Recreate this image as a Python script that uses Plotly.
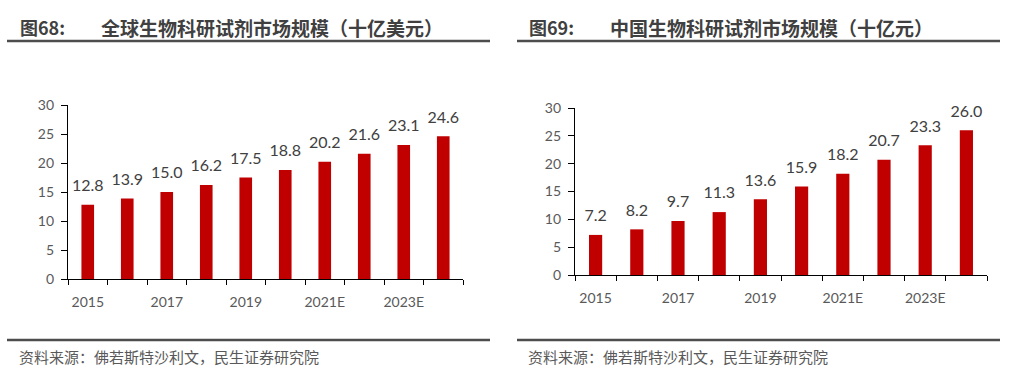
import plotly.graph_objects as go

years = ["2015", "2016", "2017", "2018", "2019", "2020", "2021E", "2022E", "2023E", "2024E"]
global_vals = [12.8, 13.9, 15.0, 16.2, 17.5, 18.8, 20.2, 21.6, 23.1, 24.6]
china_vals = [7.2, 8.2, 9.7, 11.3, 13.6, 15.9, 18.2, 20.7, 23.3, 26.0]
y_ticks = [0, 5, 10, 15, 20, 25, 30]
title_left = "全球生物科研试剂市场规模（十亿美元）"
title_right = "中国生物科研试剂市场规模（十亿元）"
fig_left = "图68:"
fig_right = "图69:"
source = "资料来源：佛若斯特沙利文，民生证券研究院"

W, H = 1015, 373
BAR = "#C00000"
TXT = "#404040"
TICK = "#595959"
NUMFONT = "Lato, Noto Sans CJK SC, sans-serif"
CJK = "Noto Sans CJK SC, sans-serif"

fig = go.Figure()
idx = list(range(len(years)))
for vals, xa, ya in [(global_vals, "x", "y"), (china_vals, "x2", "y2")]:
    fig.add_trace(go.Bar(x=idx, y=vals, marker_color=BAR, marker_line_width=0,
                         hoverinfo="skip", xaxis=xa, yaxis=ya))
    fig.add_trace(go.Scatter(x=idx, y=vals, mode="markers+text",
                             marker=dict(size=14, opacity=0),
                             text=[f"{v:.1f}" for v in vals], textposition="top center",
                             textfont=dict(size=16, color=TXT, family=NUMFONT),
                             cliponaxis=False, hoverinfo="skip", xaxis=xa, yaxis=ya))

def xaxis(domain, anchor):
    return dict(domain=domain, anchor=anchor, range=[-0.5, len(years) - 0.5],
                tickmode="array", tickvals=idx[::2], ticktext=years[::2], ticks="",
                showline=True, linecolor="black", linewidth=1.3, showgrid=False, zeroline=False,
                tickfont=dict(size=14, color=TICK, family=NUMFONT), ticklabelstandoff=10,
                minor=dict(tickmode="linear", tick0=-0.5, dtick=1, ticks="outside",
                           ticklen=5, tickcolor="black", tickwidth=1.3, showgrid=False),
                automargin=False, fixedrange=True)

def yaxis(domain, anchor):
    return dict(domain=domain, anchor=anchor, range=[0, 30], tickmode="array", tickvals=y_ticks,
                ticks="outside", ticklen=6, tickcolor="black", tickwidth=1.3,
                showline=True, linecolor="black", linewidth=1.3, showgrid=False, zeroline=False,
                tickfont=dict(size=14, color=TICK, family=NUMFONT), ticklabelstandoff=4,
                automargin=False, fixedrange=True)

fig.update_layout(
    width=W, height=H, autosize=False, margin=dict(l=0, r=0, t=0, b=0, pad=0, autoexpand=False),
    paper_bgcolor="white", plot_bgcolor="white", showlegend=False,
    bargap=0.68,
    xaxis=xaxis([68 / W, 463 / W], "y"),
    yaxis=yaxis([1 - 279 / H, 1 - 105 / H], "x"),
    xaxis2=xaxis([575 / W, 987 / W], "y2"),
    yaxis2=yaxis([1 - 275 / H, 1 - 108 / H], "x2"),
)

shapes = []
for x0, x1 in [(7, 490), (517, 1000)]:
    shapes.append(dict(type="line", xref="paper", yref="paper", x0=x0 / W, x1=x1 / W,
                       y0=1 - 41 / H, y1=1 - 41 / H, line=dict(color="#4d4d4d", width=2.5)))
    shapes.append(dict(type="line", xref="paper", yref="paper", x0=x0 / W, x1=x1 / W,
                       y0=1 - 340 / H, y1=1 - 340 / H, line=dict(color="#4d4d4d", width=2.5)))
fig.update_layout(shapes=shapes)

ann = []
for xf, xt, f, t in [(18, 99, fig_left, title_left), (527, 608, fig_right, title_right)]:
    ann.append(dict(x=xf / W, y=1 - 27 / H, xref="paper", yref="paper", xanchor="left", yanchor="middle",
                    text=f"<b>{f}</b>", showarrow=False, font=dict(size=18, color=TXT, family=CJK)))
    ann.append(dict(x=xt / W, y=1 - 27 / H, xref="paper", yref="paper", xanchor="left", yanchor="middle",
                    text=f"<b>{t}</b>", showarrow=False, font=dict(size=19, color=TXT, family=CJK)))
    ann.append(dict(x=(xf - 1) / W, y=1 - 356 / H, xref="paper", yref="paper", xanchor="left", yanchor="middle",
                    text=source, showarrow=False, font=dict(size=15, color=TICK, family=CJK)))
fig.update_layout(annotations=ann)

fig.write_html("out.html", config={"displayModeBar": False, "responsive": False},
               post_script="document.body.style.margin='0';document.body.style.overflow='hidden';")
